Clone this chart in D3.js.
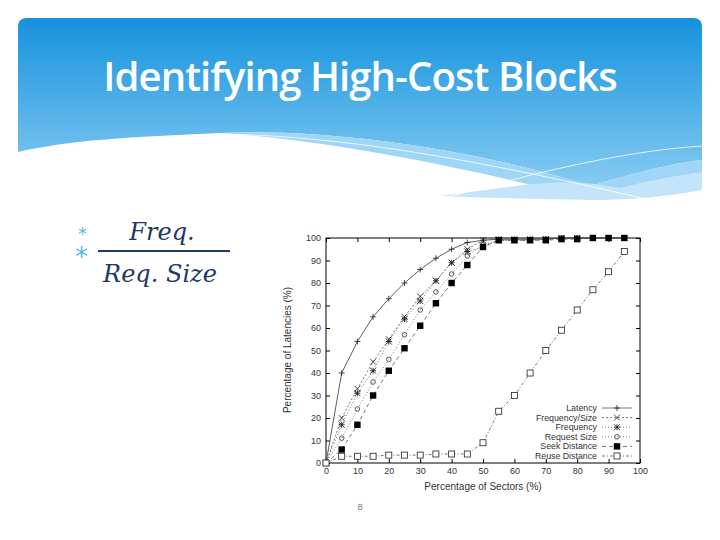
<!DOCTYPE html>
<html><head><meta charset="utf-8">
<script src="https://cdn.jsdelivr.net/npm/d3@7"></script>
<style>body{margin:0;background:#fff}svg{display:block}</style>
</head><body><svg id="c" width="720" height="540"></svg>
<script>
const xTicks=[0,10,20,30,40,50,60,70,80,90,100];
const yTicks=[0,10,20,30,40,50,60,70,80,90,100];
const xs=[0,5,10,15,20,25,30,35,40,45,50,55,60,65,70,75,80,85,90,95];
const latency=[0,40,54,65,73,80,86,91,95,98,99,99.5,99.5,99.5,99.5,100,100,100,100,100];
const freqSize=[0,20,33,45,55,65,74,81,89,95,99,99.5,99.5,99.5,99.5,100,100,100,100,100];
const frequency=[0,17,31,41,54,64,72,81,89,94,96,99,99,99,99.5,100,100,100,100,100];
const reqSize=[0,11,24,36,46,57,68,76,84,92,97,99,99,99,99.5,100,100,100,100,100];
const seekDist=[0,6,17,30,41,51,61,71,80,88,96,99,99,99,99,99.5,99.5,100,100,100];
const reuseDist=[0,3,3,3,3.5,3.5,3.5,4,4,4,9,23,30,40,50,59,68,77,85,94];
const names=["Latency","Frequency/Size","Frequency","Request Size","Seek Distance","Reuse Distance"];

const svg=d3.select("#c");
const defs=svg.append("defs");
const g1=defs.append("linearGradient").attr("id","hg").attr("x1",0).attr("y1",0).attr("x2",0).attr("y2",1);
g1.append("stop").attr("offset","0%").attr("stop-color","#1592dc");
g1.append("stop").attr("offset","100%").attr("stop-color","#86cbf3");
defs.append("clipPath").attr("id","hc").append("rect").attr("x",18).attr("y",18).attr("width",684).attr("height",200).attr("rx",8);
const hdr=svg.append("g").attr("clip-path","url(#hc)");
hdr.append("path").attr("d","M18,18H702V160C660,165 620,178 590,186C480,150 330,128 220,133C130,137 70,140 18,152Z").attr("fill","url(#hg)");
hdr.append("path").attr("d","M220,133C330,128 480,150 590,186C620,178 660,165 702,160V175C660,185 620,195 585,199C480,170 330,140 220,133Z").attr("fill","#9fd5f6");
hdr.append("path").attr("d","M440,196C520,186 560,176 620,188C650,180 680,175 702,172V190C660,198 620,200 590,200C540,199 480,198 440,196Z").attr("fill","#c4e5f9");
hdr.append("path").attr("d","M215,134C350,135 500,165 650,200").attr("stroke","#fff").attr("fill","none").attr("stroke-width",0.8);
hdr.append("path").attr("d","M445,198C560,165 640,150 702,146").attr("stroke","#fff").attr("fill","none").attr("stroke-width",0.8);
svg.append("text").attr("x",360).attr("y",91).attr("text-anchor","middle").attr("fill","#fff")
 .attr("font-family","Open Sans").attr("font-weight",600).attr("font-size",40).attr("letter-spacing",-0.9).text("Identifying High-Cost Blocks");

// formula
svg.append("text").attr("x",78).attr("y",240).attr("fill","#5bb8e8").attr("font-size",18).attr("font-family","DejaVu Sans").text("*");
svg.append("text").attr("x",75).attr("y",266).attr("fill","#5bb8e8").attr("font-size",26).attr("font-family","DejaVu Sans").text("*");
svg.append("text").attr("x",162).attr("y",240).attr("text-anchor","middle").attr("fill","#1f3864").attr("font-size",24).attr("font-style","italic").attr("font-family","DejaVu Serif").text("Freq.");
svg.append("line").attr("x1",98).attr("x2",230).attr("y1",251).attr("y2",251).attr("stroke","#1f3864").attr("stroke-width",2);
svg.append("text").attr("x",160).attr("y",282).attr("text-anchor","middle").attr("fill","#1f3864").attr("font-size",24).attr("font-style","italic").attr("font-family","DejaVu Serif").text("Req. Size");

// chart
const x=d3.scaleLinear().domain([0,100]).range([326,640]);
const y=d3.scaleLinear().domain([0,100]).range([463,238]);
const cg=svg.append("g").attr("font-family","Liberation Sans").attr("fill","#333");
cg.append("rect").attr("x",326).attr("y",238).attr("width",314).attr("height",225).attr("fill","none").attr("stroke","#000");
cg.append("g").attr("transform","translate(0,463)").call(d3.axisBottom(x).tickValues(xTicks).tickSize(-4).tickPadding(5));
cg.append("g").attr("transform","translate(326,0)").call(d3.axisLeft(y).tickValues(yTicks).tickSize(-4).tickPadding(5));
cg.append("g").attr("transform","translate(0,238)").call(d3.axisTop(x).tickValues(xTicks).tickSize(-4).tickFormat(""));
cg.append("g").attr("transform","translate(640,0)").call(d3.axisRight(y).tickValues(yTicks).tickSize(-4).tickFormat(""));
cg.selectAll(".domain").remove();
cg.selectAll(".tick text").attr("font-size",9).attr("fill","#333").attr("font-family","Liberation Sans");
cg.append("text").attr("x",483).attr("y",490).attr("text-anchor","middle").attr("font-size",10).attr("fill","#333").text("Percentage of Sectors (%)");
cg.append("text").attr("transform","translate(291,350) rotate(-90)").attr("text-anchor","middle").attr("font-size",10).attr("fill","#333").text("Percentage of Latencies (%)");

const series=[latency,freqSize,frequency,reqSize,seekDist,reuseDist];
const dashes=[null,"2,2","1,2","1,2","4,3","3,2,1,2"];
const markers=["plus","x","star","circle","square","opensq"];
function mark(g,t,px,py){
  const s=3;
  if(t==="plus"){g.append("path").attr("d",`M${px-s},${py}h${2*s}M${px},${py-s}v${2*s}`).attr("stroke","#222").attr("stroke-width",0.8);}
  else if(t==="x"){g.append("path").attr("d",`M${px-s},${py-s}l${2*s},${2*s}M${px-s},${py+s}l${2*s},${-2*s}`).attr("stroke","#222").attr("stroke-width",0.8);}
  else if(t==="star"){g.append("path").attr("d",`M${px-s},${py-s}l${2*s},${2*s}M${px-s},${py+s}l${2*s},${-2*s}M${px-s},${py}h${2*s}M${px},${py-s}v${2*s}`).attr("stroke","#222").attr("stroke-width",0.9);}
  else if(t==="circle"){g.append("circle").attr("cx",px).attr("cy",py).attr("r",2.3).attr("fill","none").attr("stroke","#333").attr("stroke-width",0.8);}
  else if(t==="square"){g.append("rect").attr("x",px-3.2).attr("y",py-3.2).attr("width",6.4).attr("height",6.4).attr("fill","#000");}
  else {g.append("rect").attr("x",px-3).attr("y",py-3).attr("width",6).attr("height",6).attr("fill","#fff").attr("stroke","#222").attr("stroke-width",0.8);}
}
const line=d3.line().x((d,i)=>x(xs[i])).y(d=>y(d));
series.forEach((s,k)=>{
  const g=cg.append("g");
  g.append("path").attr("d",line(s)).attr("fill","none").attr("stroke",k===0?"#333":"#555").attr("stroke-width",0.8).attr("stroke-dasharray",dashes[k]);
  s.forEach((v,i)=>mark(g,markers[k],x(xs[i]),y(v)));
});
// legend
names.forEach((n,k)=>{
  const ly=408+k*9.6;
  cg.append("text").attr("x",597).attr("y",ly+3).attr("text-anchor","end").attr("font-size",8.8).attr("fill","#333").text(n);
  cg.append("line").attr("x1",602).attr("x2",632).attr("y1",ly).attr("y2",ly).attr("stroke","#555").attr("stroke-width",0.8).attr("stroke-dasharray",dashes[k]);
  mark(cg,markers[k],617,ly);
});
svg.append("text").attr("x",360).attr("y",510).attr("text-anchor","middle").attr("font-size",9).attr("fill","#5a7aa0").attr("font-family","Liberation Sans").text("8");
</script></body></html>
